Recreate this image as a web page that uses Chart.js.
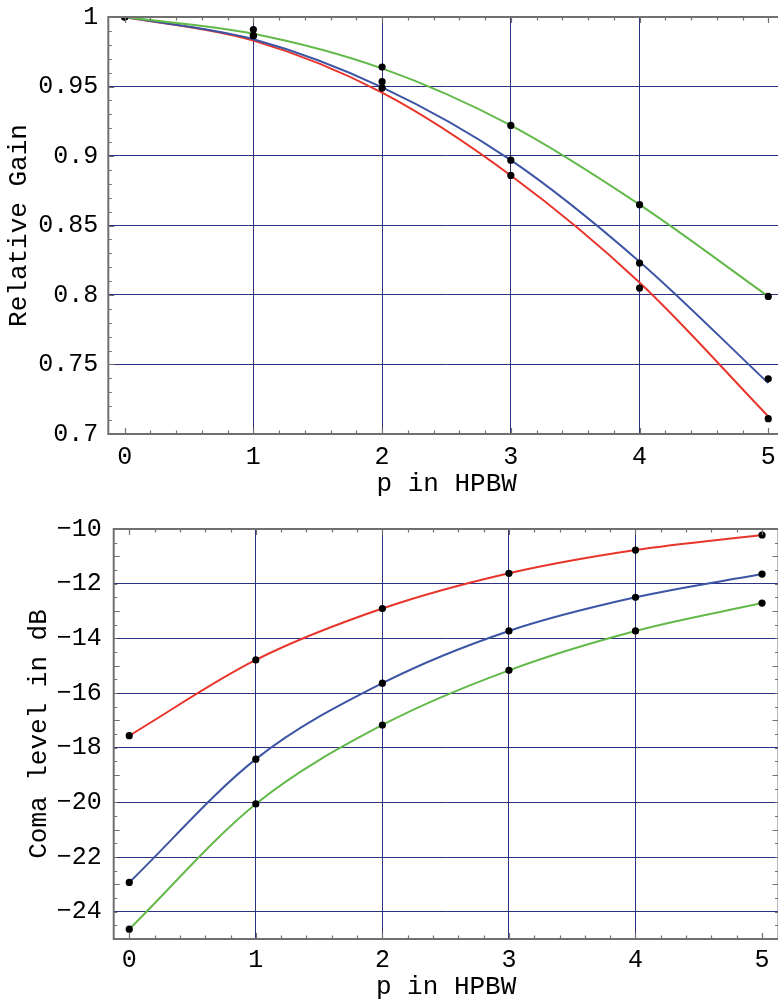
<!DOCTYPE html>
<html>
<head>
<meta charset="utf-8">
<script src="https://cdn.jsdelivr.net/npm/chart.js@4.4.1/dist/chart.umd.min.js"></script>
<style>
    html, body { margin: 0; padding: 0; background: #fff; overflow: hidden; width: 778px; height: 1003px; }
    .box { position: absolute; left: 0; }
    #gainBox { top: 0; }
    #comaBox { top: 500px; }
</style>
</head>
<body>
<div class="box" id="gainBox"><canvas id="gainChart" width="790" height="500"></canvas></div>
<div class="box" id="comaBox"><canvas id="comaChart" width="790" height="503"></canvas></div>
<script>
// p in HPBW
const pValues = [0, 1, 2, 3, 4, 5];
const xTicks = [0, 1, 2, 3, 4, 5];

// relative gain: data dots and fitted curves
const gainRedDots = [1.0, 0.9866, 0.949, 0.886, 0.805, 0.711];
const gainBlueDots = [1.0, 0.9866, 0.9535, 0.897, 0.823, 0.7397];
const gainGreenDots = [1.0, 0.991, 0.964, 0.922, 0.865, 0.799];
const gainRedCurve = [1.0, 0.983, 0.9456, 0.886, 0.809, 0.7127];
const gainBlueCurve = [1.0, 0.984, 0.9494, 0.897, 0.824, 0.7366];
const gainGreenCurve = [1.0, 0.988, 0.963, 0.922, 0.865, 0.799];
const gainYTicks = [0.7, 0.75, 0.8, 0.85, 0.9, 0.95, 1];
const gainYLabels = ["0.7", "0.75", "0.8", "0.85", "0.9", "0.95", "1"];

// coma level in dB
const comaRed = [-17.56, -14.79, -12.91, -11.62, -10.77, -10.22];
const comaBlue = [-22.93, -18.42, -15.64, -13.73, -12.50, -11.65];
const comaGreen = [-24.64, -20.06, -17.17, -15.17, -13.73, -12.71];
const comaYTicks = [-24, -22, -20, -18, -16, -14, -12, -10];
const comaYLabels = ["\u221224", "\u221222", "\u221220", "\u221218", "\u221216", "\u221214", "\u221212", "\u221210"];

const RED = "#e8352b";
const BLUE = "#3c56a5";
const GREEN = "#63b94a";
const GRID = "#2c3180";
const FRAME = "#707070";
const MONO = "'Liberation Mono', 'DejaVu Sans Mono', monospace";

const framePlugin = {
    id: "frame",
    afterDraw(chart, args, opts) {
        const { ctx, chartArea: a, scales: { x, y } } = chart;
        ctx.save();
        ctx.strokeStyle = FRAME;
        ctx.lineWidth = 1.2;
        ctx.beginPath();
        const xCount = Math.round((opts.xTo - opts.xFrom) / opts.xMinor);
        for (let i = 0; i <= xCount; i++) {
            const px = Math.round(x.getPixelForValue(opts.xFrom + i * opts.xMinor)) + 0.5;
            const len = i % opts.xEvery === 0 ? 6 : 3.5;
            ctx.moveTo(px, a.top); ctx.lineTo(px, a.top + len);
            ctx.moveTo(px, a.bottom); ctx.lineTo(px, a.bottom - len);
        }
        const yCount = Math.round((opts.yTo - opts.yFrom) / opts.yMinor);
        for (let i = 0; i <= yCount; i++) {
            const py = Math.round(y.getPixelForValue(opts.yFrom + i * opts.yMinor)) + 0.5;
            const len = i % opts.yEvery === 0 ? 6 : 3.5;
            ctx.moveTo(a.left, py); ctx.lineTo(a.left + len, py);
            ctx.moveTo(a.right, py); ctx.lineTo(a.right - len, py);
        }
        ctx.stroke();
        ctx.lineWidth = 2;
        ctx.strokeRect(a.left, a.top, a.right - a.left, a.bottom - a.top);
        ctx.restore();
    },
};

function curve(values, color, order) {
    return {
        type: "line",
        data: pValues.map((p, i) => ({ x: p, y: values[i] })),
        borderColor: color,
        borderWidth: 2,
        pointRadius: 0,
        fill: false,
        cubicInterpolationMode: "monotone",
        order: order,
    };
}

function dots(values) {
    return {
        type: "scatter",
        data: pValues.map((p, i) => ({ x: p, y: values[i] })),
        pointRadius: 3.6,
        pointBackgroundColor: "#000",
        pointBorderWidth: 0,
        order: 0,
    };
}

function buildChart(id, setup) {
    return new Chart(document.getElementById(id), {
        type: "scatter",
        data: { datasets: setup.datasets },
        options: {
            responsive: false,
            animation: false,
            events: [],
            layout: { padding: { top: setup.top, right: setup.right, left: 0, bottom: 0 } },
            plugins: {
                legend: { display: false },
                tooltip: { enabled: false },
                frame: setup.frame,
            },
            scales: {
                x: {
                    type: "linear",
                    min: setup.xMin,
                    max: setup.xMax,
                    afterBuildTicks: (s) => { s.ticks = xTicks.map((v) => ({ value: v })); },
                    afterFit: (s) => {
                        s.height = setup.xHeight;
                        s.paddingLeft = 0;
                        s.paddingRight = 0;
                    },
                    border: { display: false },
                    grid: {
                        drawTicks: false,
                        lineWidth: 1,
                        color: (c) => (c.tick.value > 0 && c.tick.value < 5 ? GRID : "rgba(0,0,0,0)"),
                    },
                    ticks: {
                        autoSkip: false,
                        maxRotation: 0,
                        padding: setup.xPad,
                        color: "#000",
                        font: { family: MONO, size: 25 },
                        callback: (v) => String(v),
                    },
                    title: {
                        display: true,
                        text: "p in HPBW",
                        color: "#000",
                        font: { family: MONO, size: 26 },
                        padding: { top: 0, bottom: setup.xTitlePad },
                    },
                },
                y: {
                    type: "linear",
                    min: setup.yMin,
                    max: setup.yMax,
                    afterBuildTicks: (s) => { s.ticks = setup.yTicks.map((v) => ({ value: v })); },
                    afterFit: (s) => {
                        s.width = setup.yWidth;
                        s.paddingTop = 0;
                        s.paddingBottom = 0;
                    },
                    border: { display: false },
                    grid: {
                        drawTicks: false,
                        lineWidth: 1,
                        color: (c) => (c.tick.value > setup.yMin && c.tick.value < setup.yMax ? GRID : "rgba(0,0,0,0)"),
                    },
                    ticks: {
                        autoSkip: false,
                        padding: setup.yPad,
                        color: "#000",
                        font: { family: MONO, size: 25 },
                        callback: (v, i) => setup.yLabels[i],
                    },
                    title: {
                        display: true,
                        text: setup.yTitle,
                        color: "#000",
                        font: { family: MONO, size: 26 },
                        padding: { top: setup.yTitlePad, bottom: 0 },
                    },
                },
            },
        },
        plugins: [framePlugin],
    });
}

buildChart("gainChart", {
    datasets: [
        dots(gainGreenDots), dots(gainBlueDots), dots(gainRedDots),
        curve(gainGreenCurve, GREEN, 1), curve(gainBlueCurve, BLUE, 2), curve(gainRedCurve, RED, 3),
    ],
    top: 17, right: 5,
    xMin: -0.127, xMax: 5.13, xHeight: 66, xPad: 8, xTitlePad: 0,
    yMin: 0.7, yMax: 1.0, yWidth: 108.3, yPad: 10, yTitlePad: 4,
    yTicks: gainYTicks, yLabels: gainYLabels, yTitle: "Relative Gain",
    frame: { xFrom: 0, xTo: 5.2, xMinor: 0.2, xEvery: 5, yFrom: 0.7, yTo: 1.0, yMinor: 0.01, yEvery: 5 },
});

buildChart("comaChart", {
    datasets: [
        dots(comaRed), dots(comaBlue), dots(comaGreen),
        curve(comaRed, RED, 1), curve(comaBlue, BLUE, 2), curve(comaGreen, GREEN, 3),
    ],
    top: 29, right: 11.5,
    xMin: -0.123, xMax: 5.13, xHeight: 64, xPad: 6, xTitlePad: 0,
    yMin: -25, yMax: -10, yWidth: 113.7, yPad: 12, yTitlePad: 24,
    yTicks: comaYTicks, yLabels: comaYLabels, yTitle: "Coma level in dB",
    frame: { xFrom: 0, xTo: 5, xMinor: 0.2, xEvery: 5, yFrom: -25, yTo: -10, yMinor: 0.5, yEvery: 4 },
});
</script>
</body>
</html>
